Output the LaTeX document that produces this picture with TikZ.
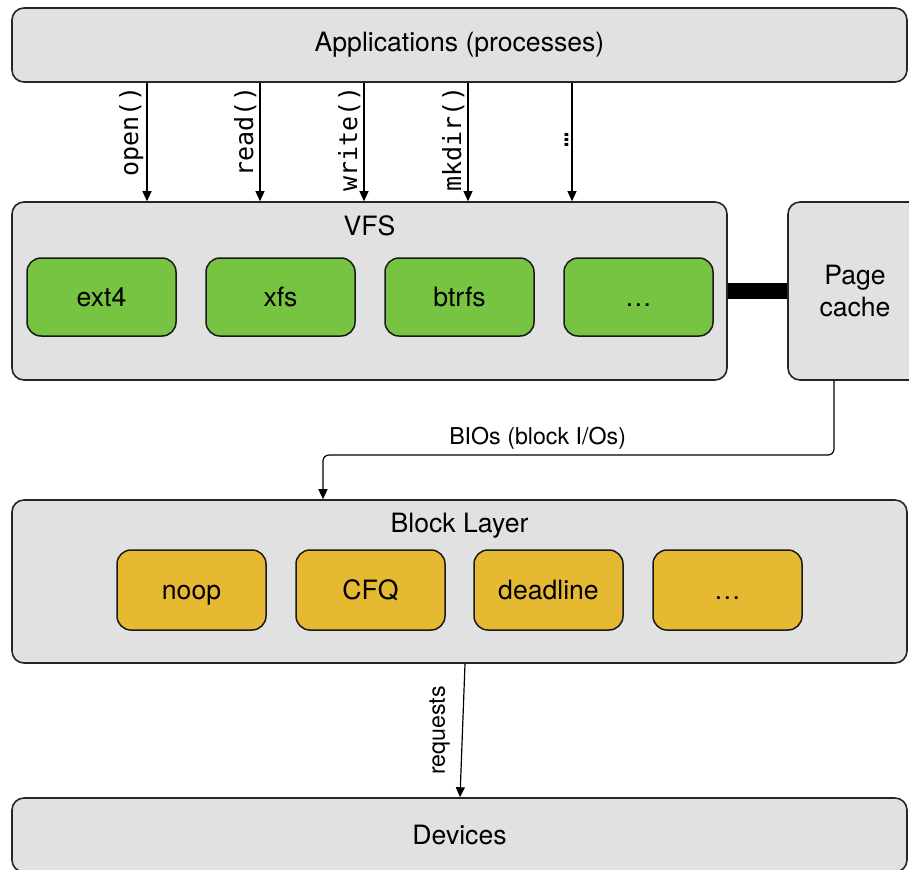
\documentclass[tikz,border=0pt]{standalone}
\usepackage{fontspec}
\setmainfont{TeX Gyre Heros}
\setmonofont{DejaVu Sans Mono}
\usetikzlibrary{arrows.meta}

\begin{document}
\begin{tikzpicture}[x=0.5pt,y=-0.5pt,font=\fontsize{13.3}{16}\selectfont,
        >={Triangle[length=5pt,width=4.5pt]},
        layer/.style={draw=black!85,fill=boxgray,rounded corners=6pt,line width=0.8pt,
                minimum width=447.5pt,minimum height=37pt,inner sep=0pt},
        module/.style={draw=black!90,rounded corners=7pt,line width=0.75pt,
                minimum width=74.5pt,minimum height=39pt,text height=9.5pt,text depth=0pt},
        call/.style={font=\fontsize{12.5}{14}\ttfamily,rotate=90,inner sep=1.5pt},
        flowlabel/.style={font=\fontsize{11.6}{14}\selectfont},
        flow/.style={->,line width=0.6pt}]

    \definecolor{boxgray}{RGB}{225,225,225}
    \definecolor{fsgreen}{RGB}{119,196,67}
    \definecolor{schedyel}{RGB}{230,185,51}

    \useasboundingbox (0,0) rectangle (909,869);
    \clip (0,0) rectangle (909,869);

    \node[layer] (apps) at (459.5,45) {Applications (processes)};
    \node[layer,minimum width=357.5pt,minimum height=89pt] (vfs) at (369.5,291) {};
    \node[anchor=base] (vfstitle) at ([yshift=-17pt]vfs.north) {VFS};
    \node[layer,minimum width=67pt,minimum height=89pt,align=center] (cache) at (855,291) {Page\\cache};
    \node[layer,minimum height=81.5pt] (block) at (459.5,581.5) {};
    \node[anchor=base] (blocktitle) at ([yshift=-16.5pt]block.north) {Block Layer};
    \node[layer] (devices) at (459.5,835) {Devices};

    \foreach \nm/\x/\txt in {ext/101.5/ext4,xfs/280.5/xfs,btrfs/459.5/btrfs,fsmore/638.5/\ldots}
    \node[module,fill=fsgreen] (\nm) at (\x,297) {\txt};

    \foreach \nm/\x/\txt in {noop/191.5/noop,cfq/370.5/CFQ,deadline/548.5/deadline,iomore/727.5/\ldots}
    \node[module,fill=schedyel,minimum height=40pt] (\nm) at (\x,590) {\txt};

    \foreach \nm/\x/\txt in {open/147/open(),read/260/read(),write/364/write(),mkdir/468/mkdir()}
    \draw[flow] (\x,0 |- apps.south) -- (\x,0 |- vfs.north)
    node[call,pos=0,anchor=south east] (\nm) {\txt};

    \draw[flow] (572,0 |- apps.south) -- (572,0 |- vfs.north)
    node[call,pos=0.48,anchor=south] (callmore) {…};

    \draw[line width=8pt] (vfs.east) -- (cache.west);

    \draw[flow,rounded corners=3pt] (834,0 |- cache.south) |- (323,455)
    node[flowlabel,pos=0.79,above,inner sep=2.5pt] (bios) {BIOs (block I/Os)}
    -- (323,0 |- block.north);

    \draw[flow] (465,0 |- block.south) -- (460,0 |- devices.north)
    node[flowlabel,midway,rotate=90,anchor=south,inner sep=6pt] (requests) {requests};

\end{tikzpicture}
\end{document}
